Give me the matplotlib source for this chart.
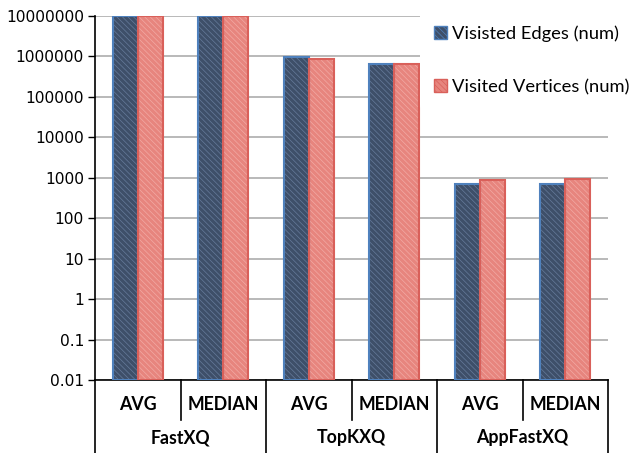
import matplotlib
matplotlib.use("Agg")
import matplotlib.pyplot as plt
import matplotlib.transforms as mtransforms
from matplotlib.lines import Line2D
from matplotlib.patches import Patch
import numpy as np

groups = ["FastXQ", "TopKXQ", "AppFastXQ"]
stats = ["AVG", "MEDIAN"]
series_names = ["Visisted Edges (num)", "Visited Vertices (num)"]
edges_vals = [1e7, 1e7, 980000, 660000, 720, 720]
vertices_vals = [1e7, 1e7, 875000, 650000, 890, 930]
ytick_vals = [0.01, 0.1, 1, 10, 100, 1000, 10000, 100000, 1000000, 10000000]
ytick_labels = ["0.01", "0.1", "1", "10", "100", "1000", "10000", "100000", "1000000", "10000000"]

fig = plt.figure(figsize=(6.33, 4.53), dpi=100)
ax = fig.add_axes([95/633, 1-380/453, (608-95)/633, (380-16)/453])

x = np.arange(len(edges_vals))
w = 0.293
base = 0.01

blue_fill, blue_hatch, blue_edge = "#3e4f69", "#667b9b", "#4f81bd"
red_fill, red_hatch, red_edge = "#e7857e", "#f2aaa5", "#d9605a"

plt.rcParams["hatch.linewidth"] = 0.5
for vals, off, fc, hc, ec in [(edges_vals, -w/2, blue_fill, blue_hatch, blue_edge),
                              (vertices_vals, w/2, red_fill, red_hatch, red_edge)]:
    heights = [v - base for v in vals]
    ax.bar(x + off, heights, w, bottom=base, color=fc, edgecolor=hc, hatch="\\\\\\\\\\\\", linewidth=0, zorder=2)
    ax.bar(x + off, heights, w, bottom=base, fill=False, edgecolor=ec, linewidth=1.5, zorder=3)

ax.set_yscale("log")
ax.set_ylim(0.01, 1e7)
ax.set_xlim(-0.5, 5.5)
ax.set_yticks(ytick_vals)
ax.set_yticklabels(ytick_labels)
ax.yaxis.set_minor_locator(matplotlib.ticker.NullLocator())
ax.tick_params(axis="y", labelsize=11.2, length=5, width=1, pad=3)
ax.set_xticks([])
ax.yaxis.grid(True, color="#b3b3b3", linewidth=1.3, zorder=0)
ax.set_axisbelow(True)
for s in ["top", "right"]:
    ax.spines[s].set_visible(False)
ax.spines["left"].set_linewidth(1.2)
ax.spines["bottom"].set_linewidth(1.2)

# category table below axis
trans = mtransforms.blended_transform_factory(ax.transData, fig.transFigure)
y_axis = 1 - 380/453
y_mid = 1 - 420/453
for xs in [-0.5, 1.5, 3.5, 5.5]:
    fig.add_artist(Line2D([xs, xs], [y_axis, 0], transform=trans, color="black", lw=1.2, clip_on=False))
for xs in [0.5, 2.5, 4.5]:
    fig.add_artist(Line2D([xs, xs], [y_axis, y_mid], transform=trans, color="black", lw=1.2, clip_on=False))

lab_font = dict(family="Lato", fontweight="bold", fontsize=12.8)
for i in range(len(edges_vals)):
    fig.text(i, 1 - 405/453, stats[i % 2], transform=trans, ha="center", va="center", **lab_font)
for g, name in enumerate(groups):
    fig.text(2*g + 0.5, 1 - 438/453, name, transform=trans, ha="center", va="center", **lab_font)

handles = [Patch(facecolor=blue_fill, edgecolor=blue_edge, hatch="\\\\\\\\\\\\", linewidth=1),
           Patch(facecolor=red_fill, edgecolor=red_edge, hatch="\\\\\\\\\\\\", linewidth=1)]
leg = fig.legend(handles, series_names, loc="upper left", bbox_to_anchor=(420/633, 1 - 12/453),
                 frameon=True, framealpha=1, edgecolor="white", facecolor="white",
                 prop=dict(family="Lato", size=13.2), handlelength=0.7, handleheight=0.7,
                 handletextpad=0.3, labelspacing=2.0, borderpad=0.75, borderaxespad=0)
leg.get_frame().set_linewidth(0)

fig.savefig("out.png", dpi=100)
